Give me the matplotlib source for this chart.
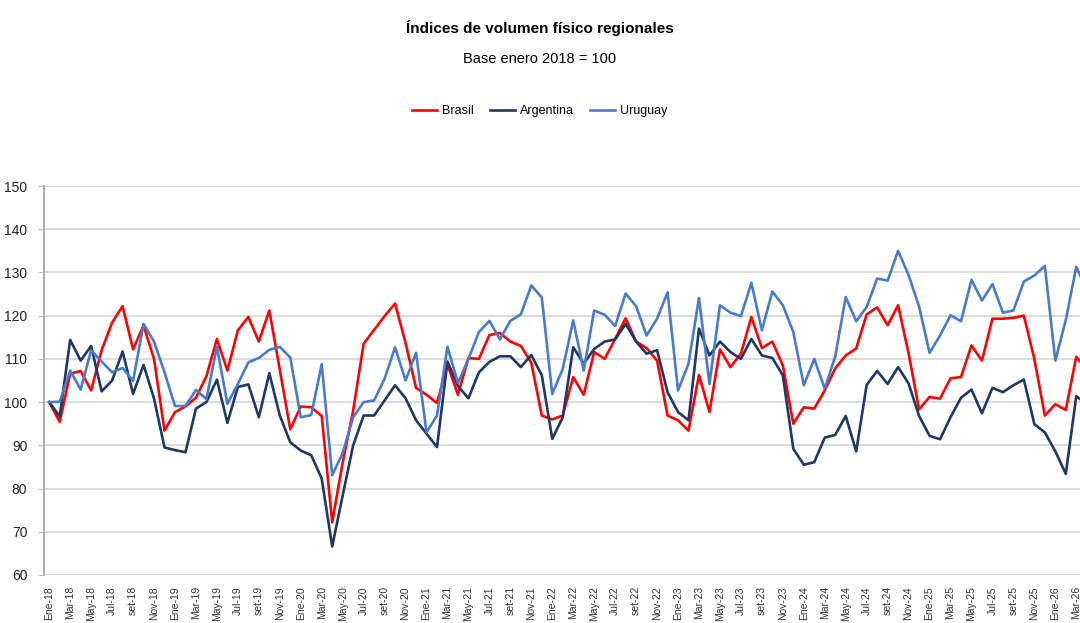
import matplotlib.pyplot as plt
import numpy as np

# monthly index values, Ene-18 .. Abr-26 (base enero 2018 = 100)
brasil = [
    100, 95.4, 106.6, 107.2, 102.7, 112, 118.4, 122.2, 112.2, 117.7, 110, 93.4,
    97.7, 99, 101, 106, 114.6, 107.3, 116.6, 119.7, 114, 121.2, 107.5, 93.7,
    99, 98.8, 96.8, 72.2, 86, 98, 113.5, 116.7, 119.9, 122.8, 113.7, 103.3,
    101.7, 99.8, 108.7, 101.7, 110.2, 110, 115.5, 116, 114, 113, 109.1, 96.9,
    96, 96.9, 105.8, 101.7, 111.6, 110, 114.6, 119.4, 114, 112.5, 109.6, 96.9,
    95.8, 93.4, 106.3, 97.7, 112.2, 108.1, 111.2, 119.7, 112.5, 114, 108.5, 95,
    98.8, 98.5, 102.7, 107.8, 110.8, 112.4, 120.3, 121.9, 117.8, 122.4, 111.3, 98.3,
    101.2, 100.8, 105.5, 105.8, 113.1, 109.6, 119.3, 119.3, 119.5, 120, 110, 96.9,
    99.5, 98.2, 110.5, 107.5,
]
argentina = [
    100, 96.7, 114.4, 109.6, 113, 102.5, 105, 111.7, 101.9, 108.6, 100.8, 89.5,
    88.9, 88.4, 98.5, 100, 105.2, 95.2, 103.5, 104.1, 96.5, 106.7, 96.9, 90.7,
    88.8, 87.7, 82.3, 66.6, 78.4, 90, 96.9, 96.9, 100.4, 103.9, 100.9, 95.8,
    92.7, 89.6, 109.4, 103.7, 100.9, 106.9, 109.3, 110.6, 110.6, 108.1, 110.9, 106.2,
    91.5, 96.5, 112.7, 108.9, 112.3, 114, 114.5, 118.1, 114, 111.2, 112, 102.3,
    97.7, 95.8, 117, 110.8, 114, 111.6, 110, 114.6, 110.8, 110.2, 106.2, 89.2,
    85.5, 86.1, 91.8, 92.4, 96.8, 88.6, 104, 107.2, 104.2, 108.1, 104.3, 96.8,
    92.2, 91.4, 96.5, 101, 102.9, 97.4, 103.3, 102.3, 103.9, 105.2, 94.9, 93,
    88.6, 83.4, 101.4, 99.5,
]
uruguay = [
    100, 100.1, 107.3, 102.9, 112, 109.4, 106.9, 107.9, 104.9, 118.1, 114, 106.9,
    99.1, 99.1, 102.8, 100.7, 112.8, 99.6, 104.2, 109.2, 110.2, 112.1, 112.8, 110.3,
    96.5, 97, 108.8, 83.1, 88.2, 96.5, 100, 100.4, 105.4, 112.7, 105, 111.4,
    93, 96.9, 112.8, 104.4, 110, 116.2, 118.8, 114.5, 118.8, 120.3, 127, 124.2,
    101.9, 107.7, 118.9, 107.3, 121.2, 120.2, 117.6, 125.1, 122.2, 115.4, 119.3, 125.4,
    102.7, 108.9, 124.1, 104.2, 122.4, 120.7, 119.9, 127.6, 116.6, 125.6, 122.4, 116.2,
    103.9, 110, 103.1, 110.6, 124.3, 118.7, 122, 128.6, 128.1, 135, 129.4, 122.1,
    111.4, 115.4, 120.1, 118.7, 128.3, 123.5, 127.3, 120.7, 121.2, 127.9, 129.3, 131.5,
    109.6, 119, 131.3, 126,
]
months = ["Ene", "Feb", "Mar", "Abr", "May", "Jun",
          "Jul", "Ago", "set", "Oct", "Nov", "Dic"]
years = list(range(18, 27))

labels = [f"{m}-{y}" for y in years for m in months][:len(brasil)]
x = np.arange(len(brasil))

plt.rcParams["font.family"] = ["Liberation Sans", "DejaVu Sans"]

fig = plt.figure(figsize=(10.8, 6.23), dpi=100)
# plot area runs past the right edge, like the cropped original
ax = fig.add_axes([44 / 1080, 48 / 623, 1048 / 1080, 389 / 623])

ax.plot(x, brasil, color="#ff0000", lw=1.9, label="Brasil")
ax.plot(x, argentina, color="#1f3864", lw=1.9, label="Argentina")
ax.plot(x, uruguay, color="#4a7bc8", lw=1.9, label="Uruguay")

ax.set_xlim(-0.5, len(brasil) - 0.5)
ax.set_ylim(60, 150)
ax.set_yticks(range(60, 151, 10))
ax.yaxis.grid(True, color="#d9d9d9", lw=1.3)
ax.set_axisbelow(True)
ax.tick_params(axis="y", labelsize=10, colors="#222222", length=4, pad=8,
               color="#bfbfbf")
ax.set_xticks(x[::2])
ax.set_xticklabels(labels[::2], rotation=90, fontsize=7.5, color="#333333")
ax.tick_params(axis="x", length=0, pad=8)

for side in ["top", "right", "bottom"]:
    ax.spines[side].set_visible(False)
ax.spines["left"].set_color("#a6a6a6")
ax.spines["left"].set_linewidth(1.3)

fig.text(0.5, 0.955, "Índices de volumen físico regionales",
         ha="center", va="center", fontsize=11, fontweight="bold")
fig.text(0.5, 0.905, "Base enero 2018 = 100",
         ha="center", va="center", fontsize=10.5)
fig.legend(loc="center", bbox_to_anchor=(0.5, 0.822), ncol=3, frameon=False,
           fontsize=9, handlelength=2.0, columnspacing=1.3, handletextpad=0.4)

fig.savefig("out.png", dpi=100)
